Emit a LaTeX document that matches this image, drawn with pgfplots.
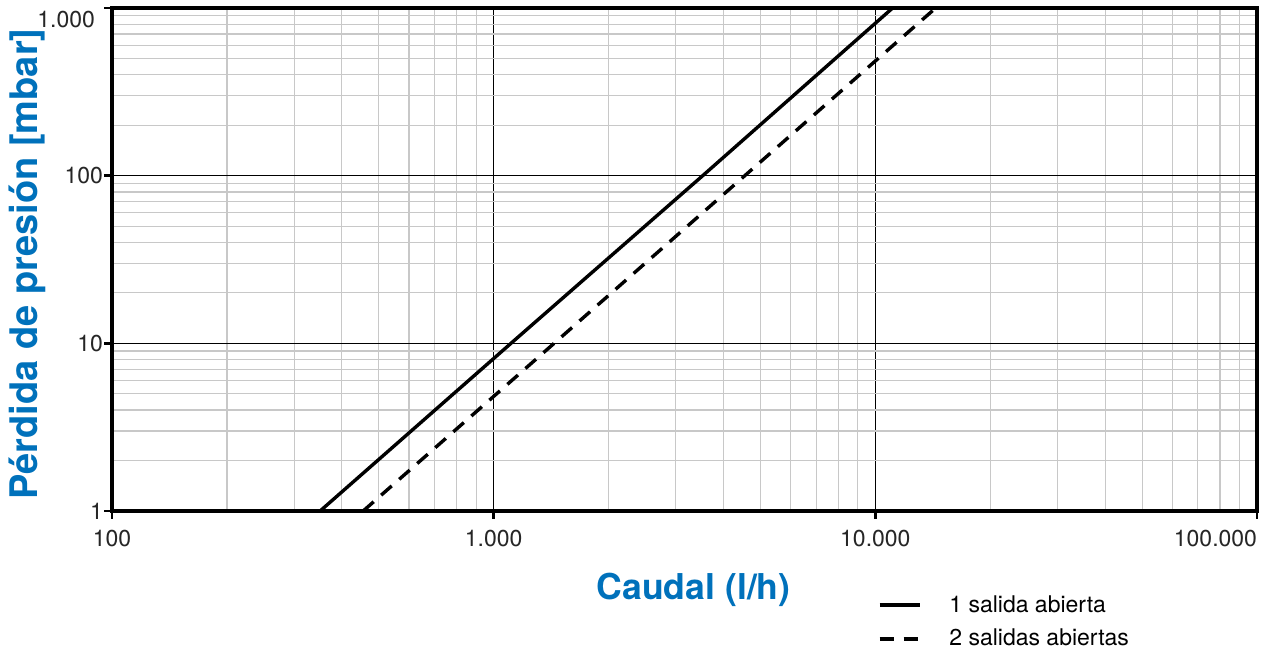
\documentclass[border=0pt]{standalone}
\usepackage{fontspec}
\setmainfont{TeX Gyre Heros}
\usepackage{pgfplots}
\pgfplotsset{compat=1.18}
\definecolor{labelblue}{HTML}{0071BB}
\definecolor{minorgrid}{HTML}{C8C8C8}

\begin{document}
\begin{tikzpicture}
% page frame: 1 px of the reference = 0.5pt
\useasboundingbox (-56pt,-71pt) rectangle (577pt,255.5pt);
\begin{axis}[
  xmode=log, ymode=log,
  scale only axis,
  width=572.5pt, height=251.5pt,
  xmin=100, xmax=100000,
  ymin=1, ymax=1000,
  xtick={100,1000,10000,100000},
  xticklabels={100,1.000,10.000,\makebox[0pt][r]{100.000}},
  ytick={1,10,100,1000},
  yticklabels={1,10,100,\raisebox{-10pt}[0pt][0pt]{1.000}\kern4pt},
  xtick pos=bottom, ytick pos=left,
  tick align=outside,
  major tick length=4pt,
  minor tick length=0pt,
  tick style={black, line width=1.2pt},
  axis line style={black, line width=1.8pt},
  grid=both,
  major grid style={black, line width=0.7pt},
  minor grid style={minorgrid, line width=0.6pt},
  ticklabel style={font=\fontsize{11.5}{13}\selectfont, text=black!85},
  xticklabel style={yshift=-2pt},
  yticklabel style={xshift=3pt},
  xlabel={Caudal (l/h)},
  ylabel={Pérdida de presión [mbar]},
  xlabel style={font=\fontsize{17.8}{20}\selectfont\bfseries, text=labelblue,
    at={(rel axis cs:0.508,-0.157)}, anchor=center},
  ylabel style={font=\fontsize{19}{21}\selectfont\bfseries, text=labelblue,
    at={(rel axis cs:-0.074,0.491)}, anchor=center},
  legend style={at={(rel axis cs:0.6685,-0.159)}, anchor=north west,
    draw=none, fill=none, font=\fontsize{11.5}{13}\selectfont,
    row sep=3pt, inner sep=0pt},
  legend cell align=left,
  legend image code/.code={\draw[#1, line width=1.8pt] (0pt,0pt) -- (20pt,0pt); \path (32pt,0pt);},
]
% 1 salida abierta
\addplot[black, line width=1.7pt] coordinates {
  (351,1) (1110,10) (3530,100) (11100,1000)};
\addlegendentry{1 salida abierta}
% 2 salidas abiertas
\addplot[black, line width=1.7pt, dash pattern=on 7pt off 5pt] coordinates {
  (455,1) (1440,10) (4550,100) (14390,1000)};
\addlegendentry{2 salidas abiertas}
\end{axis}
\end{tikzpicture}
\end{document}
